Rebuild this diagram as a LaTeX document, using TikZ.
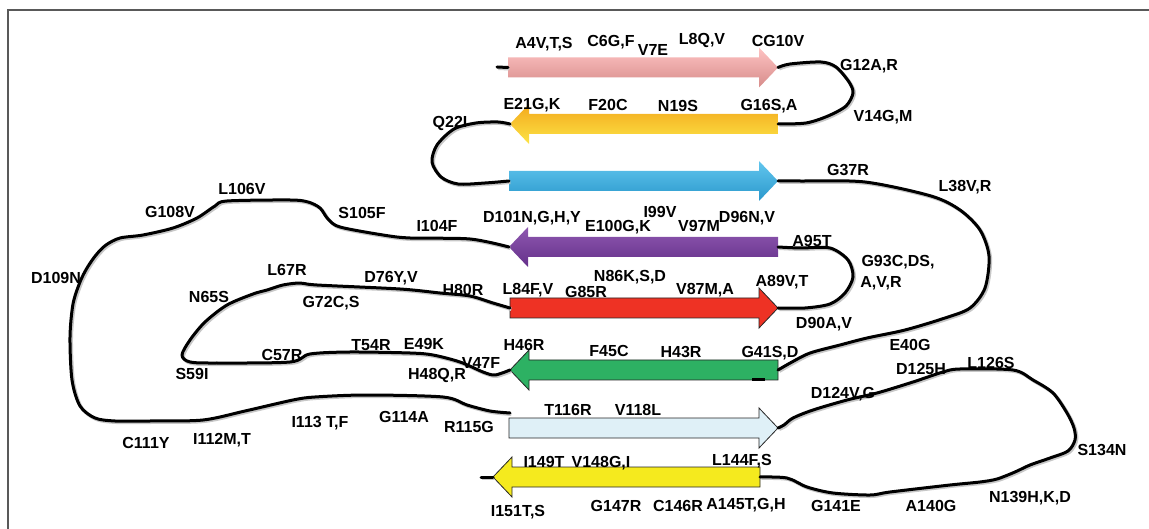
\documentclass[tikz,border=0pt]{standalone}
\usepackage{fontspec}
\setmainfont{Liberation Sans}
\begin{document}
\newcommand\sarR[5]{% xl, xr, yc, name, style
  \path[#5] (#1,{#3-10}) -- ({#2-19},{#3-10}) -- ({#2-19},{#3-20}) -- (#2,#3) -- ({#2-19},{#3+20}) -- ({#2-19},{#3+10}) -- (#1,{#3+10}) -- cycle;
  \coordinate (#4L) at (#1,#3); \coordinate (#4R) at (#2,#3);}
\newcommand\sarL[5]{% xtip, xr, yc, name, style
  \path[#5] (#2,{#3-10}) -- ({#1+19},{#3-10}) -- ({#1+19},{#3-20}) -- (#1,#3) -- ({#1+19},{#3+20}) -- ({#1+19},{#3+10}) -- (#2,{#3+10}) -- cycle;
  \coordinate (#4L) at (#1,#3); \coordinate (#4R) at (#2,#3);}
\begin{tikzpicture}[x=1pt,y=-1pt,
  lab/.style={inner sep=0pt, anchor=base, font=\fontsize{16}{18}\selectfont\bfseries},
  strandline/.style={line width=3pt, line join=round, line cap=round, black,
    preaction={draw=black!22, line width=3.4pt, transform canvas={shift={(1.3pt,-1.3pt)}}}},
  flatarrow/.style={draw=black!85, line width=0.8pt, line join=miter}]
\useasboundingbox (0,0) rectangle (1149,529);
\draw[black!65, line width=1.6pt] (8,529) -- (8,10) -- (1149,10);
% strands
\sarR{508}{778}{67.5}{p}{top color=pink!60!white!90!red, middle color={rgb,255:red,233;green,163;blue,161}, bottom color={rgb,255:red,214;green,140;blue,138}}
\sarL{510}{778}{124}{o}{top color={rgb,255:red,243;green,168;blue,28}, bottom color={rgb,255:red,252;green,228;blue,70}}
\sarR{509}{778}{181}{b}{top color={rgb,255:red,98;green,198;blue,238}, middle color={rgb,255:red,57;green,176;blue,226}, bottom color={rgb,255:red,42;green,152;blue,204}}
\sarL{509}{778}{247}{u}{top color={rgb,255:red,142;green,88;blue,176}, middle color={rgb,255:red,122;green,63;blue,157}, bottom color={rgb,255:red,101;green,48;blue,138}}
\sarR{510}{778}{308}{r}{fill={rgb,255:red,238;green,50;blue,36}, flatarrow}
\sarL{510}{778}{370}{g}{fill={rgb,255:red,45;green,177;blue,99}, flatarrow}
\sarR{509}{778}{428}{w}{fill={rgb,255:red,223;green,240;blue,247}, flatarrow}
\sarL{493}{760}{477}{y}{fill={rgb,255:red,245;green,234;blue,30}, flatarrow}
\coordinate (s1) at (497,67);
\coordinate (s2) at (481,477);
\coordinate (gm1) at (752,379.5);
\coordinate (gm2) at (765,379.5);
\draw[strandline] (s1) -- (pL);
\draw[strandline] (yL) -- (s2);
\draw[black, line width=2pt] (gm1) -- (gm2);
% loops
\draw[strandline] plot[smooth, tension=0.5] coordinates {(pR) (790,64) (821,62) (836,67) (849,82) (853,93) (846,106) (828,116) (806,123) (oR)};
\draw[strandline] plot[smooth, tension=0.5] coordinates {(oL) (498,122) (476,123) (454,129) (437,145) (432,162) (441,177) (458,184) (485,183) (bL)};
\draw[strandline] plot[smooth, tension=0.5] coordinates {(bR) (800,181) (865,182) (931,196) (960,210) (980,230) (989,256) (985,288) (970,308) (945,318) (905,330) (867,338) (840,345) (810,353) (792,362) (gR)};
\draw[strandline] plot[smooth, tension=0.5] coordinates {(uR) (800,248) (830,248) (848,260) (853,277) (845,293) (830,304) (805,308) (rR)};
\coordinate (wT) at (510,413);
\draw[strandline] plot[smooth, tension=0.5] coordinates {(uL) (470,239) (410,238) (383,235) (340,227) (328,219) (320,208) (308,202) (290,200) (227,201) (215,206) (197,218) (173,228) (143,235) (120,238) (106,245) (96,255) (87,268) (80,282) (73,304) (70,337) (72,380) (80,406) (95,418) (115,421) (150,421) (203,420) (245,411) (293,400) (315,397) (366,395) (443,397) (467,405) (490,411) (wT)};
\draw[strandline] plot[smooth, tension=0.5] coordinates {(rL) (493,303) (470,296) (440,293) (400,289) (317,285) (300,283) (283,285) (267,290) (253,294) (227,305) (205,322) (190,340) (182,355) (190,362) (217,363) (290,362) (310,354) (350,352) (410,353) (433,355) (460,362) (483,372) (495,375) (gL)};
\draw[strandline] plot[smooth, tension=0.5] coordinates {(wR) (784,425) (793,418) (813,410) (847,400) (877,393) (913,382) (943,372) (960,369) (1013,370) (1033,380) (1053,393) (1067,413) (1074,428) (1075,440) (1068,451) (1050,458) (1030,465) (1015,472) (997,479) (980,482) (950,485) (890,492) (870,495) (833,493) (807,487) (787,478) (yR)};
% labels
\node[lab] (n1) at (544,49) {A4V,T,S};
\node[lab] (n2) at (611,47) {C6G,F};
\node[lab] (n3) at (653,56) {V7E};
\node[lab] (n4) at (702,45) {L8Q,V};
\node[lab] (n5) at (778,47) {CG10V};
\node[lab] (n6) at (869,71) {G12A,R};
\node[lab] (n7) at (883,122) {V14G,M};
\node[lab] (n8) at (532,110) {E21G,K};
\node[lab] (n9) at (608,111) {F20C};
\node[lab] (n10) at (678,112) {N19S};
\node[lab] (n11) at (769,111) {G16S,A};
\node[lab] (n12) at (450,128) {Q22I};
\node[lab] (n13) at (848,176) {G37R};
\node[lab] (n14) at (965,192) {L38V,R};
\node[lab] (n15) at (242,195) {L106V};
\node[lab] (n16) at (170,218) {G108V};
\node[lab] (n17) at (362,219) {S105F};
\node[lab] (n18) at (437,232) {I104F};
\node[lab] (n19) at (532,223) {D101N,G,H,Y};
\node[lab] (n20) at (618,232) {E100G,K};
\node[lab] (n21) at (660,218) {I99V};
\node[lab] (n22) at (699,232) {V97M};
\node[lab] (n23) at (747,223) {D96N,V};
\node[lab] (n24) at (812,247) {A95T};
\node[lab] (n25) at (898,267) {G93C,DS,};
\node[lab] (n26) at (881,288) {A,V,R};
\node[lab] (n27) at (56,284) {D109N};
\node[lab] (n28) at (287,276) {L67R};
\node[lab] (n29) at (391,283) {D76Y,V};
\node[lab] (n30) at (630,282) {N86K,S,D};
\node[lab] (n31) at (528,295) {L84F,V};
\node[lab] (n32) at (586,298) {G85R};
\node[lab] (n33) at (705,295) {V87M,A};
\node[lab] (n34) at (782,287) {A89V,T};
\node[lab] (n35) at (463,296) {H80R};
\node[lab] (n36) at (209,303) {N65S};
\node[lab] (n37) at (331,308) {G72C,S};
\node[lab] (n38) at (824,329) {D90A,V};
\node[lab] (n39) at (282,361) {C57R};
\node[lab] (n40) at (371,351) {T54R};
\node[lab] (n41) at (424,350) {E49K};
\node[lab] (n42) at (524,351) {H46R};
\node[lab] (n43) at (481,369) {V47F};
\node[lab] (n44) at (437,380) {H48Q,R};
\node[lab] (n45) at (192,380) {S59I};
\node[lab] (n46) at (609,357) {F45C};
\node[lab] (n47) at (681,358) {H43R};
\node[lab] (n48) at (770,358) {G41S,D};
\node[lab] (n49) at (910,351) {E40G};
\node[lab] (n50) at (921,374) {D125H};
\node[lab] (n51) at (991,369) {L126S};
\node[lab] (n52) at (843,399) {D124V,G};
\node[lab] (n53) at (568,415) {T116R};
\node[lab] (n54) at (638,415) {V118L};
\node[lab] (n55) at (404,422) {G114A};
\node[lab] (n56) at (320,427) {I113 T,F};
\node[lab] (n57) at (469,432) {R115G};
\node[lab] (n58) at (222,444) {I112M,T};
\node[lab] (n59) at (146,448) {C111Y};
\node[lab] (n60) at (1102,455) {S134N};
\node[lab] (n61) at (544,467) {I149T};
\node[lab] (n62) at (601,467) {V148G,I};
\node[lab] (n63) at (742,465) {L144F,S};
\node[lab] (n64) at (1030,502) {N139H,K,D};
\node[lab] (n65) at (931,511) {A140G};
\node[lab] (n66) at (836,511) {G141E};
\node[lab] (n67) at (518,516) {I151T,S};
\node[lab] (n68) at (616,511) {G147R};
\node[lab] (n69) at (678,511) {C146R};
\node[lab] (n70) at (746,509) {A145T,G,H};
\end{tikzpicture}
\end{document}
